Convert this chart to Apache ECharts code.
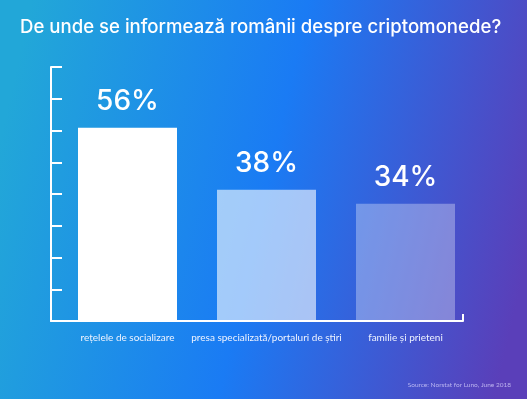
<!DOCTYPE html>
<html>
<head>
<meta charset="utf-8">
<script src="https://cdn.jsdelivr.net/npm/echarts@6/dist/echarts.min.js"></script>
<style>
  html, body { margin: 0; padding: 0; }
  #chart { width: 527px; height: 399px; }
</style>
</head>
<body>
<div id="chart"></div>
<script>
// ==============================
// data
// ==============================
const categories = ['rețelele de socializare', 'presa specializată/portaluri de știri', 'familie și prieteni'];
const shares = [56, 38, 34];
const barColors = ['#ffffff', 'rgba(255,255,255,0.6)', 'rgba(255,255,255,0.32)'];

// axis scale: 8 ticks, bars read at ~3.45px per point
const axisMax = 73.6;
const axisStep = 9.2;

const titleText = 'De unde se informează românii despre criptomonede?';
const sourceText = 'Source: Norstat for Luno, June 2018';

// ==============================
// chart
// ==============================
const chart = echarts.init(document.getElementById('chart'));

const white = '#ffffff';

chart.setOption({
  backgroundColor: {
    type: 'linear',
    x: 0, y: 0.35, x2: 1, y2: 0.65,
    colorStops: [
      { offset: 0, color: '#22a7d8' },
      { offset: 0.5, color: '#1a7bf4' },
      { offset: 1, color: '#5a3fb9' }
    ]
  },
  title: [
    {
      text: titleText,
      left: 15,
      top: 13,
      textStyle: { color: white, fontSize: 18.6, fontWeight: 500, fontFamily: 'Inter' }
    },
    {
      text: sourceText,
      right: 11,
      bottom: 6,
      textStyle: { color: 'rgba(220,215,255,0.75)', fontSize: 6.5, fontWeight: 400, fontFamily: 'Lato' }
    }
  ],
  grid: [
    // axes frame
    { left: 51, right: 64, top: 67, bottom: 78 },
    // bars
    { left: 58, right: 52, top: 67, bottom: 78 }
  ],
  xAxis: [
    {
      gridIndex: 0,
      type: 'value',
      min: 0,
      max: 1,
      interval: 1,
      axisLine: { show: true, lineStyle: { color: white, width: 2 } },
      axisTick: { show: true, inside: true, length: 7, lineStyle: { color: white, width: 2 } },
      axisLabel: { show: false },
      splitLine: { show: false }
    },
    {
      gridIndex: 1,
      type: 'category',
      data: categories,
      axisLine: { show: false },
      axisTick: { show: false },
      axisLabel: {
        interval: 0,
        hideOverlap: false,
        color: '#eef3ff',
        fontSize: 10,
        fontFamily: 'Lato',
        margin: 12
      }
    }
  ],
  yAxis: [
    {
      gridIndex: 0,
      type: 'value',
      min: 0,
      max: axisMax,
      interval: axisStep,
      axisLine: { show: true, lineStyle: { color: white, width: 2 } },
      axisTick: { show: true, inside: true, length: 11, lineStyle: { color: white, width: 2 } },
      axisLabel: { show: false },
      splitLine: { show: false }
    },
    {
      gridIndex: 1,
      type: 'value',
      min: 0,
      max: axisMax,
      show: false
    }
  ],
  series: [
    {
      type: 'bar',
      xAxisIndex: 1,
      yAxisIndex: 1,
      barWidth: 99,
      data: shares.map((v, i) => ({ value: v, itemStyle: { color: barColors[i] } })),
      label: {
        show: true,
        position: 'top',
        distance: 12,
        formatter: '{c}%',
        color: white,
        fontSize: 28,
        fontWeight: 500,
        fontFamily: 'Inter'
      }
    }
  ]
});
</script>
</body>
</html>
